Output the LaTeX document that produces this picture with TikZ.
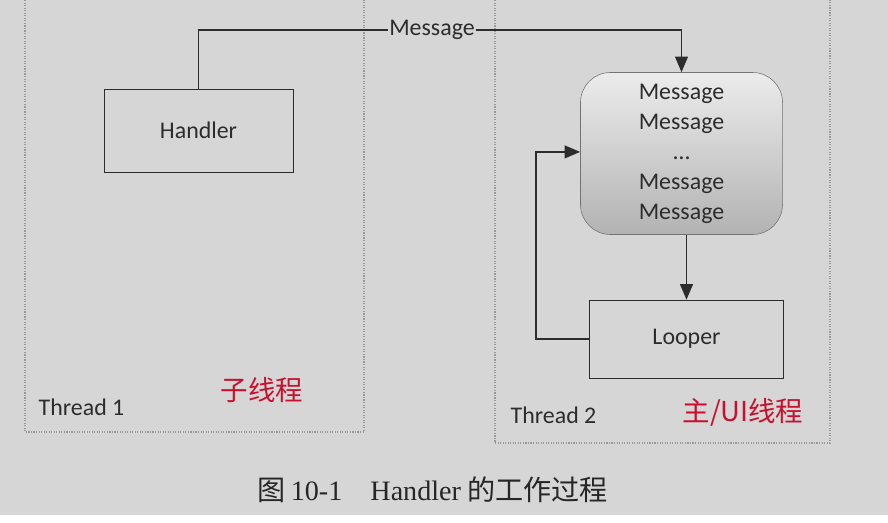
\documentclass[tikz,border=0pt]{standalone}
\usepackage{fontspec}
\setmainfont{Carlito}
\newfontfamily\capfont{Liberation Serif}
\newfontfamily\cjk{Noto Sans CJK SC}
\usepackage{xcolor}
\usetikzlibrary{arrows.meta, positioning, calc}

\definecolor{paper}{HTML}{D6D6D6}
\definecolor{inkgray}{HTML}{2C2C2C}
\definecolor{pen_red}{HTML}{C8102E}

\begin{document}
\begin{tikzpicture}[
        x=0.025cm, y=-0.025cm,
        % Define styles for the nodes
        thread_box/.style={draw=gray!80, densely dotted, thick},
        proc_box/.style={rectangle, draw=inkgray, fill=paper, minimum width=4.8cm, minimum height=2.0cm, align=center, font=\fontsize{17}{21}\selectfont, text=inkgray},
        queue_box/.style={rectangle, draw=gray!90!black, rounded corners=0.75cm, minimum width=5.05cm, minimum height=4.05cm, align=center, top color=gray!15, bottom color=gray!60, font=\fontsize{17}{21.3}\selectfont, text=inkgray},
        label_text/.style={font=\fontsize{17}{20}\selectfont, text=inkgray, inner sep=1pt},
        hand_text/.style={font=\cjk\fontsize{19.5}{22}\selectfont, text=pen_red},
        caption_text/.style={font=\fontsize{20}{22}\selectfont, text=black!85},
        % Styles for arrows
        arrow/.style={-{Triangle[length=11pt, width=9pt]}, draw=inkgray, line width=1.3pt},
        line/.style={draw=inkgray, line width=1.3pt}
    ]

    % =========================================================================
    % PAGE & THREAD AREAS
    % =========================================================================
    \useasboundingbox (0,0) rectangle (888,522);
    \fill[white] (0,0) rectangle (888,522);
    \fill[paper] (0,0) rectangle (888,515);

    \draw[thread_box] (25,-5) rectangle (364,432);
    \draw[thread_box] (495,-5) rectangle (830,443);

    \node (thread1_label) [label_text, anchor=west] at (37,407) {Thread 1};
    \node (thread2_label) [label_text, anchor=west] at (509,415) {Thread 2};

    \node (sub_note) [hand_text] at (262,390) {子线程};
    \node (main_note) [hand_text] at (743,412) {主/UI线程};

    % =========================================================================
    % THREAD 1 - HANDLER
    % =========================================================================
    \node (handler) [proc_box, minimum width=4.72cm, minimum height=2.07cm] at (198.5,130.5) {Handler};

    % =========================================================================
    % THREAD 2 - MESSAGE QUEUE & LOOPER
    % =========================================================================
    \node (queue) [queue_box] at (681.5,153.5) {Message\\Message\\…\\Message\\Message};

    \node (looper) [proc_box, minimum width=4.85cm, minimum height=1.95cm] at (686.5,339) {Looper};

    % Message sent from Handler to the queue
    \node (msg_label) [label_text] at (432,30) {Message};
    \draw [line] (handler.north) |- (msg_label.west);
    \draw [arrow] (msg_label.east) -| (queue.north);

    % Looper takes messages and loops back
    \draw [arrow] (looper.north |- queue.south) -- (looper.north);
    \draw [arrow] (looper.west) -- ++(-53,0) |- ([yshift=0.04cm]queue.west);

    % =========================================================================
    % CAPTION
    % =========================================================================
    \node (caption) [caption_text, anchor=west] at (253,490) {{\cjk 图}\,{\capfont 10-1\quad Handler} {\cjk 的工作过程}};

\end{tikzpicture}
\end{document}
